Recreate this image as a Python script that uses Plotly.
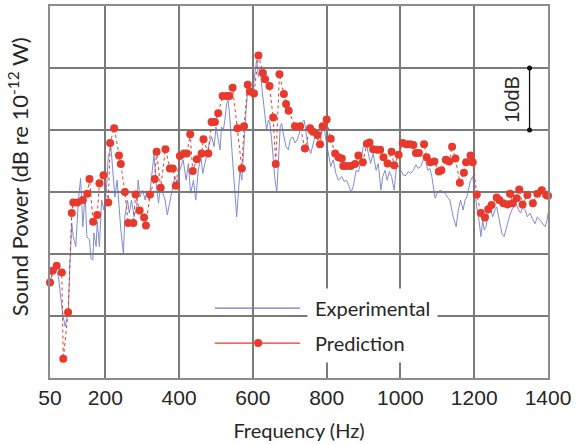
import plotly.graph_objects as go

# ---------------- data ----------------
freq_exp = [
    50, 55, 59, 66, 73, 77, 82, 86, 91, 95,
    100, 104, 109, 113, 120, 127, 133, 139, 145, 150,
    157, 161, 166, 169, 175, 178, 184, 190, 196, 204,
    208, 215, 220, 226, 232, 238, 242, 249, 253, 260,
    265, 271, 278, 285, 289, 294, 301, 308, 312, 319,
    326, 332, 337, 344, 350, 356, 362, 368, 375, 383,
    389, 395, 402, 411, 419, 425, 431, 439, 445, 452,
    459, 464, 470, 476, 482, 488, 495, 500, 506, 511,
    515, 520, 524, 529, 533, 538, 543, 547, 552, 556,
    560, 565, 570, 576, 581, 586, 592, 600, 606, 610,
    615, 619, 624, 628, 633, 637, 642, 646, 651, 655,
    660, 665, 669, 674, 678, 682, 690, 696, 701, 708,
    714, 720, 726, 732, 739, 744, 750, 757, 762, 768,
    775, 780, 787, 793, 798, 804, 811, 818, 825, 832,
    841, 847, 854, 861, 866, 872, 880, 886, 892, 899,
    907, 913, 919, 926, 934, 940, 947, 952, 958, 964,
    970, 976, 983, 990, 994, 1001, 1008, 1015, 1021, 1028,
    1035, 1042, 1048, 1055, 1062, 1068, 1074, 1080, 1085, 1089,
    1094, 1100, 1107, 1115, 1121, 1127, 1134, 1143, 1151, 1157,
    1163, 1170, 1175, 1180, 1184, 1190, 1196, 1199, 1203, 1208,
    1214, 1218, 1223, 1227, 1232, 1238, 1245, 1250, 1256, 1261,
    1268, 1275, 1281, 1288, 1295, 1302, 1308, 1313, 1320, 1326,
    1331, 1338, 1344, 1351, 1359, 1365, 1371, 1378, 1386, 1392,
    1398, 1400,
]
spl_exp = [
    15.8, 16.3, 17.4, 17.7, 16.3, 13.7, 11.5, 9.9, 8.3, 9.4,
    11.0, 18.5, 25.0, 22.8, 21.2, 28.7, 32.2, 24.4, 29.8, 22.8,
    22.3, 19.3, 19.0, 23.4, 21.2, 25.2, 21.2, 28.7, 27.1, 31.4,
    35.7, 37.3, 33.5, 29.2, 31.9, 27.1, 23.9, 20.1, 26.0, 28.7,
    26.6, 28.7, 26.0, 27.6, 31.9, 29.2, 30.3, 28.7, 30.2, 28.7,
    32.5, 36.2, 31.9, 28.2, 30.9, 29.8, 28.7, 26.3, 28.7, 30.9,
    32.5, 31.4, 33.5, 35.2, 31.9, 34.6, 29.8, 31.9, 28.7, 33.5,
    35.7, 33.0, 34.6, 36.2, 37.9, 38.9, 37.3, 40.5, 38.4, 36.8,
    40.5, 40.0, 41.6, 44.3, 44.8, 41.6, 36.8, 33.0, 29.8, 26.0,
    29.2, 33.5, 31.9, 38.4, 42.7, 46.5, 45.9, 46.5, 49.1, 51.3,
    48.6, 50.2, 47.0, 44.8, 41.6, 40.0, 41.6, 41.1, 38.4, 35.2,
    31.9, 30.0, 34.1, 40.5, 41.1, 39.5, 37.3, 36.8, 38.4, 38.9,
    37.9, 38.4, 39.5, 41.1, 41.6, 39.5, 37.3, 36.2, 37.3, 38.9,
    38.4, 38.9, 40.0, 40.5, 38.4, 36.2, 34.1, 35.2, 33.0, 31.9,
    32.5, 31.7, 31.9, 30.9, 29.9, 30.9, 33.5, 33.3, 34.6, 37.3,
    37.9, 36.2, 34.6, 36.2, 33.5, 34.6, 30.3, 32.5, 33.5, 31.9,
    33.3, 32.5, 30.3, 34.6, 34.1, 33.5, 32.7, 32.7, 33.3, 33.0,
    33.5, 34.4, 33.8, 34.1, 35.2, 35.2, 33.5, 33.8, 32.5, 30.6,
    29.0, 29.8, 30.3, 30.0, 29.8, 29.2, 28.7, 26.0, 24.4, 27.1,
    28.7, 27.1, 28.7, 29.2, 30.3, 31.9, 32.5, 30.9, 29.2, 27.1,
    25.0, 22.8, 25.5, 23.9, 24.4, 26.6, 27.1, 26.0, 27.1, 27.6,
    25.5, 23.3, 22.8, 24.4, 26.0, 27.1, 27.6, 28.2, 27.1, 26.6,
    27.6, 27.1, 26.0, 26.6, 25.5, 24.9, 26.0, 25.5, 24.9, 24.4,
    25.5, 26.6,
]

freq_pred = [
    50, 57, 68, 82, 86, 99, 109, 113, 124, 139,
    151, 157, 167, 178, 184, 195, 208, 213, 224, 237,
    242, 253, 262, 276, 282, 293, 305, 310, 321, 334,
    339, 350, 363, 375, 383, 391, 402, 413, 421, 430,
    437, 448, 461, 466, 479, 488, 497, 506, 518, 529,
    536, 545, 558, 570, 576, 586, 592, 603, 615, 627,
    633, 645, 655, 662, 672, 684, 690, 697, 714, 728,
    741, 755, 763, 775, 782, 789, 800, 811, 823, 832,
    841, 845, 854, 865, 877, 886, 898, 909, 916, 926,
    937, 945, 954, 965, 976, 983, 995, 1006, 1016, 1026,
    1035, 1042, 1050, 1064, 1071, 1081, 1092, 1104, 1111, 1123,
    1132, 1140, 1149, 1161, 1172, 1178, 1190, 1196, 1207, 1218,
    1229, 1238, 1247, 1261, 1268, 1279, 1290, 1297, 1304, 1315,
    1322, 1331, 1344, 1359, 1371, 1383, 1395, 1400,
]
spl_pred = [
    15.4, 17.3, 18.1, 17.0, 3.1, 10.6, 26.6, 28.3, 28.3, 28.7,
    29.7, 32.1, 25.2, 26.3, 31.4, 32.7, 28.3, 37.9, 40.3, 35.9,
    34.5, 30.0, 25.0, 25.0, 29.6, 27.0, 25.9, 24.6, 29.6, 32.1,
    36.5, 30.7, 36.9, 33.8, 33.8, 31.0, 35.8, 36.2, 36.2, 39.3,
    33.4, 35.3, 36.2, 38.5, 36.2, 41.3, 41.3, 42.7, 45.5, 45.5,
    45.5, 46.8, 40.3, 33.8, 40.6, 47.3, 46.2, 45.9, 52.0, 49.2,
    48.2, 47.1, 42.0, 34.5, 49.0, 45.8, 44.2, 43.1, 40.6, 40.6,
    37.0, 40.3, 39.7, 39.2, 37.7, 40.6, 41.7, 38.6, 36.2, 35.6,
    35.4, 34.2, 34.2, 34.2, 34.5, 35.9, 34.8, 37.8, 38.0, 36.9,
    36.8, 36.8, 35.6, 34.6, 36.5, 34.3, 36.0, 37.9, 37.7, 37.7,
    37.6, 36.3, 36.3, 37.7, 35.6, 34.8, 34.9, 33.3, 33.5, 35.2,
    34.9, 37.3, 35.4, 31.5, 33.1, 34.8, 35.9, 34.8, 29.6, 26.6,
    25.9, 27.2, 27.9, 29.1, 28.7, 28.2, 28.0, 29.7, 28.2, 29.0,
    30.4, 28.0, 29.5, 28.2, 29.7, 30.3, 29.5, 29.4,
]

x_ticks = [50, 200, 400, 600, 800, 1000, 1200, 1400]
x_tick_labels = ["50", "200", "400", "600", "800", "1000", "1200", "1400"]
series_names = ["Experimental", "Prediction"]
scale_bar_x = 1350
scale_bar_db = [40, 50]
scale_bar_label = "10dB"

# ---------------- style ----------------
BLUE = "#6c79c9"
RED = "#e8392d"
GRID = "#7a7a7a"
TXT = "#262626"
CAL = "Lato, 'Open Sans', sans-serif"
ARI = "'Liberation Sans', Arial, sans-serif"

fig = go.Figure()
fig.add_trace(go.Scatter(
    x=freq_exp, y=spl_exp, mode="lines", name=series_names[0],
    line=dict(color=BLUE, width=1), opacity=0.85, showlegend=False,
))
fig.add_trace(go.Scatter(
    x=freq_pred, y=spl_pred, mode="lines+markers", name=series_names[1],
    line=dict(color=RED, width=1, dash="dot"),
    marker=dict(color=RED, size=8, line=dict(width=0)),
    cliponaxis=False, showlegend=False,
))

shapes = []
# scale bar (10 dB)
shapes.append(dict(type="line", xref="x", yref="y", x0=scale_bar_x, x1=scale_bar_x,
                   y0=scale_bar_db[0], y1=scale_bar_db[1], line=dict(color="#111", width=1.3)))
for yv in scale_bar_db:
    shapes.append(dict(type="circle", xref="x", yref="y", xsizemode="pixel", ysizemode="pixel",
                       xanchor=scale_bar_x, yanchor=yv, x0=-2.5, x1=2.5, y0=-2.5, y1=2.5,
                       fillcolor="#111", line=dict(width=0)))

# legend samples (manual, paper coords)
leg_x0, leg_x1, leg_mx, leg_tx = 0.331, 0.502, 0.418, 0.517
leg_y = [0.188, 0.094]
shapes.append(dict(type="line", xref="paper", yref="paper", x0=leg_x0, x1=leg_x1,
                   y0=leg_y[0], y1=leg_y[0], line=dict(color=BLUE, width=1.2)))
shapes.append(dict(type="line", xref="paper", yref="paper", x0=leg_x0, x1=leg_x1,
                   y0=leg_y[1], y1=leg_y[1], line=dict(color=RED, width=1.2)))
shapes.append(dict(type="circle", xref="paper", yref="paper", xsizemode="pixel", ysizemode="pixel",
                   xanchor=leg_mx, yanchor=leg_y[1], x0=-4, x1=4, y0=-4, y1=4,
                   fillcolor=RED, line=dict(width=0)))

annotations = []
for name, yv in zip(series_names, leg_y):
    annotations.append(dict(xref="paper", yref="paper", x=leg_tx, y=yv, text=name,
                            showarrow=False, xanchor="left", yanchor="middle",
                            bgcolor="white", borderpad=7,
                            font=dict(family=CAL, size=20, color=TXT)))
annotations.append(dict(xref="x", yref="y", x=1302, y=sum(scale_bar_db) / 2, text=scale_bar_label,
                        textangle=-90, showarrow=False, xanchor="center", yanchor="middle",
                        font=dict(family=ARI, size=20, color=TXT)))
# y-axis title (placed explicitly)
annotations.append(dict(xref="paper", yref="paper", x=-0.064, y=0.54, xanchor="center", yanchor="middle",
                        text="Sound Power (dB re 10<sup>-12</sup> W)", textangle=-90, showarrow=False,
                        font=dict(family=CAL, size=22, color=TXT)))

fig.update_layout(
    width=581, height=445,
    margin=dict(l=50, r=33, t=6, b=67, autoexpand=False),
    paper_bgcolor="white", plot_bgcolor="white",
    shapes=shapes, annotations=annotations,
    showlegend=False,
)
fig.update_xaxes(
    range=[50, 1400], tickmode="array", tickvals=x_ticks, ticktext=x_tick_labels,
    showgrid=True, gridcolor=GRID, gridwidth=1.5,
    showline=True, linecolor="#8c8c8c", linewidth=1.5, mirror=True,
    ticks="", zeroline=False, automargin=False,
    tickfont=dict(family=ARI, size=21, color=TXT),
    title=dict(text="Frequency (Hz)", font=dict(family=CAL, size=20, color=TXT), standoff=16),
)
fig.update_yaxes(
    range=[0, 60], dtick=10, showticklabels=False,
    showgrid=True, gridcolor=GRID, gridwidth=1.5,
    showline=True, linecolor="#8c8c8c", linewidth=1.5, mirror=True,
    ticks="", zeroline=False, automargin=False,
)

fig.write_html("out.html", config={"displayModeBar": False},
               post_script="document.body.style.margin='0';document.body.style.overflow='hidden';")
